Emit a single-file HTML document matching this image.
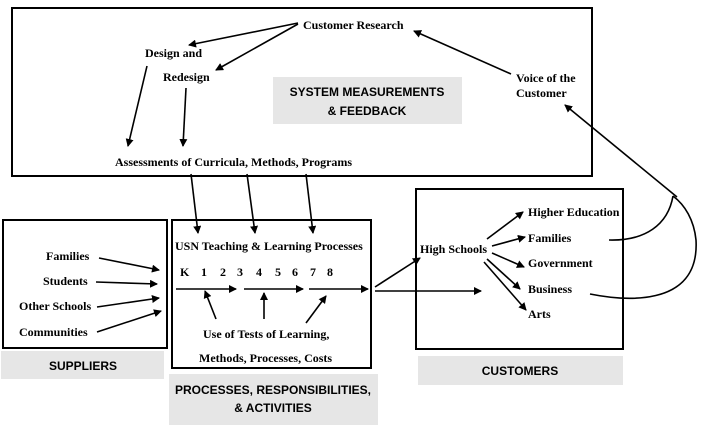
<!DOCTYPE html>
<html><head><meta charset="utf-8"><style>
html,body{margin:0;padding:0;background:#fff;}
svg{display:block;}
.t{font-family:"Liberation Serif","DejaVu Serif",serif;font-weight:bold;font-size:12px;fill:#000;}
.g{font-family:"Liberation Sans",sans-serif;font-weight:bold;font-size:12px;fill:#000;}
</style></head><body>
<svg width="702" height="442" viewBox="0 0 702 442" xmlns="http://www.w3.org/2000/svg">
<defs><marker id="a" markerWidth="8" markerHeight="8" refX="7" refY="4" orient="auto" markerUnits="userSpaceOnUse"><path d="M0,0 L8,4 L0,8 Z" fill="#000"/></marker></defs>
<g fill="#e6e6e6">
<rect x="273" y="77" width="189" height="47"/>
<rect x="1" y="351" width="163" height="28"/>
<rect x="169" y="374" width="209" height="51"/>
<rect x="418" y="356" width="205" height="29"/>
</g>
<g fill="none" stroke="#000" stroke-width="2">
<rect x="12" y="8" width="580" height="168"/>
<rect x="3" y="220" width="164" height="128"/>
<rect x="172" y="220" width="199" height="148"/>
<rect x="416" y="189" width="207" height="160"/>
</g>
<g stroke="#000" stroke-width="1.6" fill="none" marker-end="url(#a)">
<line x1="298" y1="23" x2="189" y2="45"/>
<line x1="298" y1="24" x2="216" y2="70"/>
<line x1="511" y1="74" x2="414" y2="31"/>
<line x1="147" y1="66" x2="128" y2="146"/>
<line x1="186" y1="88" x2="183" y2="146"/>
<line x1="191" y1="174" x2="198" y2="233"/>
<line x1="247" y1="174" x2="255" y2="233"/>
<line x1="306" y1="174" x2="313" y2="233"/>
<line x1="176" y1="289" x2="236" y2="289"/>
<line x1="244" y1="289" x2="303" y2="289"/>
<line x1="309" y1="289" x2="368" y2="289"/>
<line x1="216" y1="319" x2="205" y2="291"/>
<line x1="264" y1="319" x2="264" y2="293"/>
<line x1="306" y1="323" x2="326" y2="296"/>
<line x1="99" y1="258" x2="159" y2="270"/>
<line x1="96" y1="282" x2="157" y2="284"/>
<line x1="97" y1="307" x2="159" y2="298"/>
<line x1="97" y1="332" x2="161" y2="311"/>
<line x1="375" y1="287" x2="420" y2="258"/>
<line x1="375" y1="291" x2="481" y2="291"/>
<line x1="487" y1="239" x2="523" y2="212"/>
<line x1="492" y1="246" x2="525" y2="237"/>
<line x1="492" y1="253" x2="524" y2="267"/>
<line x1="487" y1="259" x2="520" y2="289"/>
<line x1="484" y1="262" x2="526" y2="310"/>
<line x1="677" y1="197" x2="565" y2="105"/>
</g>
<g stroke="#000" stroke-width="1.6" fill="none">
<path d="M609,240 C645,241 668,225 673,196"/>
<path d="M590,294 C620,300 700,310 696,240 C694,220 685,205 673,196"/>
</g>
<text class="t" x="303" y="29">Customer Research</text>
<text class="t" x="145" y="57">Design and</text>
<text class="t" x="163" y="81">Redesign</text>
<text class="t" x="516" y="82">Voice of the</text>
<text class="t" x="516" y="97">Customer</text>
<text class="t" x="115" y="166">Assessments of Curricula, Methods, Programs</text>
<text class="t" x="175" y="250">USN Teaching &amp; Learning Processes</text>
<text class="t" x="180" y="276">K</text>
<text class="t" x="201" y="276">1</text>
<text class="t" x="220" y="276">2</text>
<text class="t" x="237" y="276">3</text>
<text class="t" x="256" y="276">4</text>
<text class="t" x="275" y="276">5</text>
<text class="t" x="292" y="276">6</text>
<text class="t" x="310" y="276">7</text>
<text class="t" x="327" y="276">8</text>
<text class="t" x="203" y="338">Use of Tests of Learning,</text>
<text class="t" x="199" y="362">Methods, Processes, Costs</text>
<text class="t" x="46" y="260">Families</text>
<text class="t" x="43" y="285">Students</text>
<text class="t" x="19" y="310">Other Schools</text>
<text class="t" x="19" y="336">Communities</text>
<text class="t" x="420" y="253">High Schools</text>
<text class="t" x="528" y="216">Higher Education</text>
<text class="t" x="528" y="242">Families</text>
<text class="t" x="528" y="267">Government</text>
<text class="t" x="528" y="293">Business</text>
<text class="t" x="528" y="318">Arts</text>
<text class="g" x="367" y="96" text-anchor="middle">SYSTEM MEASUREMENTS</text>
<text class="g" x="367" y="115" text-anchor="middle">&amp; FEEDBACK</text>
<text class="g" x="83" y="370" text-anchor="middle">SUPPLIERS</text>
<text class="g" x="273" y="394" text-anchor="middle">PROCESSES, RESPONSIBILITIES,</text>
<text class="g" x="273" y="412" text-anchor="middle">&amp; ACTIVITIES</text>
<text class="g" x="520" y="375" text-anchor="middle">CUSTOMERS</text>
</svg>
</body></html>
